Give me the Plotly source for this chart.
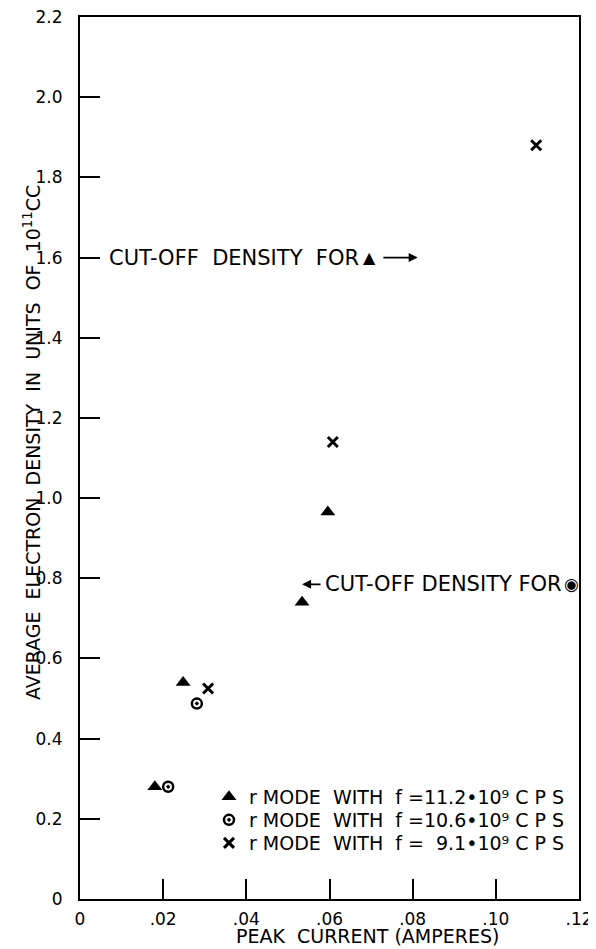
import plotly.graph_objects as go

# ---- data ----
tri_current = [0.018, 0.0248, 0.0534, 0.0596]
tri_density = [0.28, 0.54, 0.74, 0.965]
circ_current = [0.0212, 0.0281]
circ_density = [0.28, 0.4875]
x_current = [0.0308, 0.0608, 0.1097]
x_density = [0.525, 1.14, 1.88]

x_tickvals = [0, 0.02, 0.04, 0.06, 0.08, 0.10, 0.12]
x_ticktext = ["0", ".02", ".04", ".06", ".08", ".10", ".12"]
y_tickvals = [0, 0.2, 0.4, 0.6, 0.8, 1.0, 1.2, 1.4, 1.6, 1.8, 2.0, 2.2]
y_ticktext = ["0", "0.2", "0.4", "0.6", "0.8", "1.0", "1.2", "1.4", "1.6", "1.8", "2.0", "2.2"]

cutoff_tri = 1.6
cutoff_circ = 0.785

NB = "\u00a0"
names = [
    f"r MODE{NB}{NB}WITH{NB}{NB}f =11.2•10⁹ C P S",
    f"r MODE{NB}{NB}WITH{NB}{NB}f =10.6•10⁹ C P S",
    f"r MODE{NB}{NB}WITH{NB}{NB}f ={NB}{NB}9.1•10⁹ C P S",
]

FONT = "DejaVu Sans"
fig = go.Figure()
fig.add_trace(go.Scatter(x=tri_current, y=tri_density, mode="markers", name=names[0],
                         legend="legend",
                         marker=dict(symbol="triangle-up", size=13, color="black")))
fig.add_trace(go.Scatter(x=circ_current, y=circ_density, mode="markers", name=names[1],
                         legend="legend2",
                         marker=dict(symbol="circle-open-dot", size=10, color="black",
                                     line=dict(width=2.5, color="black"))))
fig.add_trace(go.Scatter(x=x_current, y=x_density, mode="markers", name=names[2],
                         legend="legend3",
                         marker=dict(symbol="x-thin", size=10, color="black",
                                     line=dict(width=3, color="black"))))

# cutoff annotations
ann_font = dict(family=FONT, size=21, color="black")
fig.add_annotation(x=0.0065, y=cutoff_tri, xref="x", yref="y", xanchor="left", yanchor="middle",
                   text=f"CUT-OFF{NB}{NB}DENSITY{NB}{NB}FOR", showarrow=False, font=ann_font)
fig.add_annotation(x=0.0695, y=cutoff_tri, xref="x", yref="y", xanchor="center", yanchor="middle",
                   text="▲", showarrow=False, font=dict(family=FONT, size=16, color="black"))
fig.add_annotation(x=0.0812, y=cutoff_tri, ax=0.0726, ay=cutoff_tri, xref="x", yref="y",
                   axref="x", ayref="y", text="", showarrow=True, arrowhead=2,
                   arrowsize=1, arrowwidth=1.8, arrowcolor="black")
fig.add_annotation(x=0.0584, y=cutoff_circ, xref="x", yref="y", xanchor="left", yanchor="middle",
                   text="CUT-OFF DENSITY FOR", showarrow=False, font=ann_font)
fig.add_annotation(x=0.1181, y=cutoff_circ, xref="x", yref="y", xanchor="center", yanchor="middle",
                   text="◉", showarrow=False, font=dict(family=FONT, size=17, color="black"))
fig.add_annotation(x=0.0534, y=cutoff_circ, ax=0.0582, ay=cutoff_circ, xref="x", yref="y",
                   axref="x", ayref="y", text="", showarrow=True, arrowhead=2,
                   arrowsize=1, arrowwidth=1.8, arrowcolor="black")

# axis titles as annotations (offset like the original)
fig.add_annotation(x=-0.096, y=0.517, xref="paper", yref="paper", textangle=-90,
                   xanchor="center", yanchor="middle",
                   text=f"AVERAGE{NB}{NB}ELECTRON{NB}{NB}DENSITY{NB}{NB}IN{NB}{NB}UNITS{NB}{NB}OF{NB}{NB}10<sup>11</sup>CC",
                   showarrow=False, font=dict(family=FONT, size=19, color="black"))
fig.add_annotation(x=0.577, y=-0.042, xref="paper", yref="paper", xanchor="center", yanchor="middle",
                   text=f"PEAK{NB}{NB}CURRENT{NB}(AMPERES)",
                   showarrow=False, font=dict(family=FONT, size=19, color="black"))

fig.update_xaxes(range=[0, 0.12], tickvals=x_tickvals, ticktext=x_ticktext,
                 ticks="inside", ticklen=20, tickwidth=2, tickcolor="black",
                 showline=True, linewidth=2, linecolor="black", mirror=True,
                 showgrid=False, zeroline=False, automargin=False, ticklabelstandoff=4,
                 ticklabeloverflow="allow",
                 tickfont=dict(family=FONT, size=17, color="black"))
fig.update_yaxes(range=[0, 2.2], tickvals=y_tickvals, ticktext=y_ticktext,
                 ticks="inside", ticklen=20, tickwidth=2, tickcolor="black",
                 showline=True, linewidth=2, linecolor="black", mirror=True,
                 showgrid=False, zeroline=False, ticklabelstandoff=12, automargin=False,
                 ticklabeloverflow="allow",
                 tickfont=dict(family=FONT, size=17, color="black"))

leg_common = dict(x=0.2985 - 0.04, xanchor="left", yanchor="top", itemwidth=30,
                  bgcolor="rgba(0,0,0,0)",
                  font=dict(family=FONT, size=19, color="black"))

# page body has an 8px margin: size the figure so the plot lands where the original is
fig.update_layout(
    width=588, height=941,
    margin=dict(l=72, r=17, t=9, b=50, autoexpand=False),
    plot_bgcolor="white", paper_bgcolor="white",
    showlegend=True,
    legend=dict(y=0.1372, **leg_common),
    legend2=dict(y=0.1111, **leg_common),
    legend3=dict(y=0.0850, **leg_common),
)

fig.write_html("out.html")
